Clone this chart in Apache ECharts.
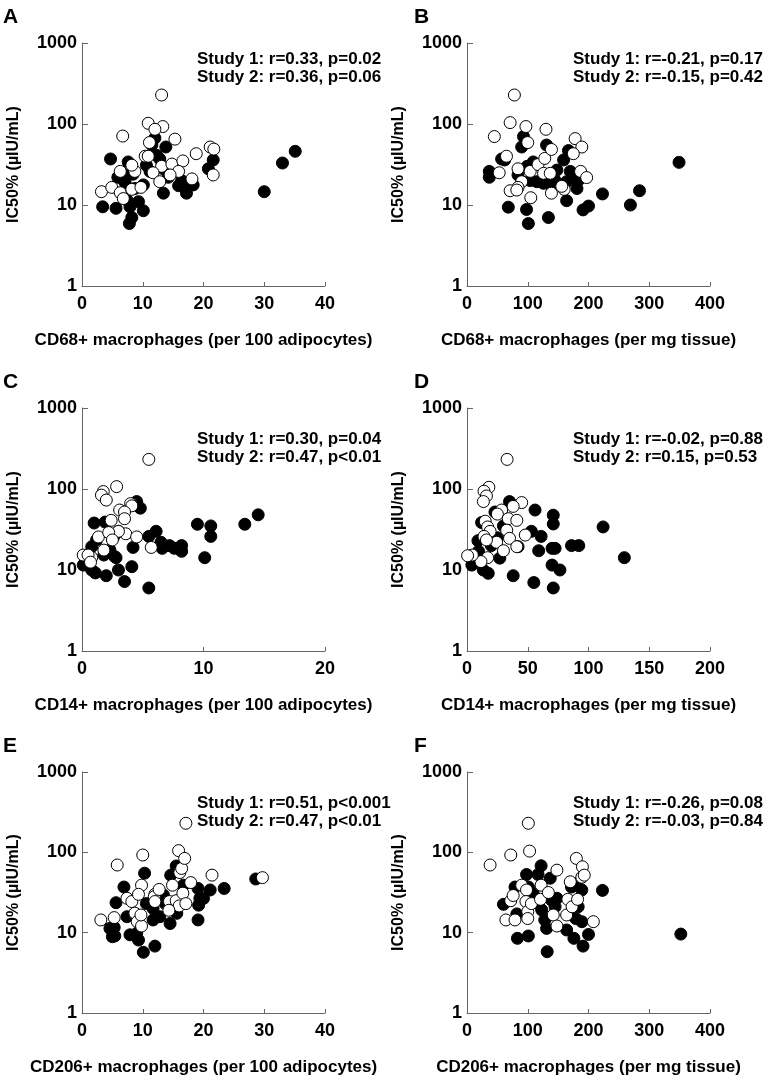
<!DOCTYPE html>
<html>
<head>
<meta charset="utf-8">
<script src="https://cdn.jsdelivr.net/npm/echarts@6/dist/echarts.min.js"></script>
<style>
  html, body { margin: 0; padding: 0; background: #fff; }
  #container { width: 771px; height: 1082px; }
</style>
</head>
<body>
<div id="container"></div>
<script>
// panel A: CD68+ per 100 adipocytes
var cd68AdipS1 = [[3.4,9.5],[4.7,37],[5.6,9.1],[5.9,22],[7.6,34],[7.9,9.5],[8.2,7.0],[7.8,5.9],[9.3,11],[10.1,8.5],[7.1,19],[7.4,23.5],[6.8,12.7],[8.7,16],[10.1,17.7],[10.6,31],[11.5,55],[12.0,67],[13.8,52],[12.3,41],[12.8,37],[13.4,28],[11.2,26],[14.2,22],[13.4,14],[15.9,17.3],[17.2,16.8],[18.3,17.7],[17.2,14],[16.4,20],[20.8,28],[21.6,36],[30.0,14.6],[33.0,33],[35.1,46],[6.9,20],[8.4,24],[7.4,11.5]];
var cd68AdipS2 = [[3.2,14.6],[4.9,16.5],[6.3,14.2],[6.7,71],[6.3,26],[8.2,15.6],[8.7,26],[8.2,31],[9.7,16.5],[6.8,12],[10.9,102],[13.3,93],[12.0,86],[11.1,59],[15.3,65],[10.4,40],[10.9,40],[13.1,30],[14.8,32],[16.6,35],[18.8,43],[11.7,25],[12.8,19.4],[15.9,26],[18.1,21],[21.1,52],[21.7,49],[21.6,23.5],[13.1,228],[14.5,23.5]];
// panel B: CD68+ per mg tissue
var cd68MgS1 = [[36.7,26],[36.7,22],[68,9.4],[98,8.8],[101,5.9],[134,7.0],[57,37],[93,70],[90,52],[131,55],[109,34],[99,30],[115,19.4],[104,20],[126,18.5],[148,27],[159,36],[167,47],[170,26],[164,19.4],[181,16],[183,20],[164,11.3],[191,8.7],[200,9.7],[223,13.7],[269,10],[284,15],[349,33.6],[134,19],[145,20],[140,16.7],[181,22],[84,23.5],[62,36]];
var cd68MgS2 = [[78,228],[45,70],[71,104],[97,93],[130,86],[100,59],[65,40],[53,25],[84,28],[104,26],[117,31.6],[128,37.6],[139,48.5],[178,66],[189,52],[175,43],[126,24.6],[137,24.6],[187,26],[197,21.8],[90,19.4],[84,16.5],[71,15],[82,15.3],[105,12.3],[139,14],[160,15.6],[156,17]];
// panel C: CD14+ per 100 adipocytes
var cd14AdipS1 = [[9.5,36.7],[10.6,35],[10.6,26],[10.1,14.2],[13.4,36.7],[14.5,48],[5.5,6.0],[5.5,26],[6.1,30],[6.5,22],[6.6,18.5],[7.2,20],[7.6,18.5],[8.2,20],[8.2,17],[4.8,58],[4.5,70],[4.2,19],[4.1,11],[3.5,7.2],[3.0,10],[2.0,8.5],[2.8,14.2],[1.0,38],[0.4,12],[0.8,10],[1.1,9.2],[0.1,11.5],[1.2,23.5],[0.8,19.4],[1.9,39],[2.6,25.6],[3.0,30],[2.3,17.6],[1.8,15.3],[2.7,14.6]];
var cd14AdipS2 = [[5.5,232],[1.75,93],[1.6,84],[2.0,73],[2.85,107],[4.0,66],[4.1,62],[3.1,55],[3.5,52],[3.5,43],[2.4,41],[3.6,28],[3.0,30],[1.35,25.6],[2.2,29],[4.5,25.6],[5.7,19],[2.5,23.5],[1.8,17.6],[0.1,15.3],[0.8,14.3],[0.5,15.3],[0.7,12.5]];
// panel D: CD14+ per mg tissue
var cd14MgS1 = [[112,34],[129.5,14.2],[86,20],[92,20],[71,47.5],[71,37],[70,18.5],[72.5,18.5],[70,11.5],[76.5,10],[71,6],[55,7.0],[38,8.5],[56,55],[61,26],[59,17.3],[53,30],[35,70],[23,52],[42,19.4],[27,14],[12,38.5],[9,23],[9.5,17],[13.4,10],[17.5,9.1],[4,11.5],[30,35],[20,20],[25,25]];
var cd14MgS2 = [[33,232],[18,105],[14,94],[16,82],[13.5,70],[45,68],[28.5,55],[25,49],[38,61],[34,43],[41,41],[15,40],[17,34],[19,30],[32.7,31],[48,27],[35,24.6],[24.4,22],[14,26],[16,23.5],[41,19.4],[30,17.3],[17,14.2],[11.5,12.7],[4.4,15.3],[0.5,15]];
// panel E: CD206+ per 100 adipocytes
var cd206AdipS1 = [[4.6,11.3],[5.0,8.9],[5.4,9.1],[5.3,11.6],[5.6,23.6],[6.9,37],[7.4,15.8],[7.9,9.4],[9.0,9.8],[9.3,8.1],[10.1,5.7],[12.0,6.8],[10.3,55],[10.6,23],[11.7,20],[11.7,14.4],[12.8,15.8],[14.5,13],[14.6,52],[15.0,24],[15.5,67.6],[15.6,17.4],[16.7,39],[19.1,35.5],[19.2,22],[19.1,14.4],[19.4,26.7],[20.0,26.7],[21.1,34],[23.4,35.5],[28.6,46.6],[13.4,29.5],[12.3,25.5],[13.7,23]];
var cd206AdipS2 = [[3.1,14.4],[5.3,15.4],[5.8,69.5],[7.4,26.8],[8.2,24.4],[8.7,17.5],[9.1,13.7],[9.8,12.1],[9.7,16.6],[10.0,92.6],[9.8,39],[9.3,30],[12.0,30],[11.9,28],[12.7,34.5],[12.0,24.4],[14.4,24.4],[14.9,39],[15.5,25],[15.9,105],[16.1,56],[16.4,63],[16.9,84],[17.1,230],[16.6,31],[16.0,21.5],[17.1,23],[17.9,42],[14.3,19],[21.4,52],[29.7,48.4]];
// panel F: CD206+ per mg tissue
var cd206MgS1 = [[352,9.6],[223,33.6],[83,8.5],[101,9.1],[132,5.8],[164,10.8],[176,8.5],[191,6.8],[200,9.5],[60,22.5],[82,17.1],[79,37],[98,53],[101,37],[117,53],[122,68],[137,47.6],[123,19.2],[128,14.4],[131,11.3],[139,25.5],[145,21],[148,26.8],[172,37],[189,34],[179,15],[189,13.7],[183,21],[180,41],[109,30.8],[117,23]];
var cd206MgS2 = [[38,69.5],[72,92.6],[101,230],[103,103.6],[64,14.4],[79,14.4],[72,25],[76,29],[90,39],[98,34],[97,24.4],[100,18.3],[100,15],[106,23],[122,39],[121,26],[134,31.6],[142,16.6],[148,12.1],[148,60],[166,26],[164,16.6],[170,43],[173,21],[182,26],[180,84],[190,66],[189,49],[193,52],[208,13.7]];

var letters = ['A','B','C','D','E','F'];
var xNames = ['CD68+ macrophages (per 100 adipocytes)','CD68+ macrophages (per mg tissue)',
              'CD14+ macrophages (per 100 adipocytes)','CD14+ macrophages (per mg tissue)',
              'CD206+ macrophages (per 100 adipocytes)','CD206+ macrophages (per mg tissue)'];
var xMax = [40, 400, 20, 200, 40, 400];
var xStep = [10, 100, 10, 50, 10, 100];
var stats = [
  ['Study 1: r=0.33, p=0.02','Study 2: r=0.36, p=0.06'],
  ['Study 1: r=-0.21, p=0.17','Study 2: r=-0.15, p=0.42'],
  ['Study 1: r=0.30, p=0.04','Study 2: r=0.47, p<0.01'],
  ['Study 1: r=-0.02, p=0.88','Study 2: r=0.15, p=0.53'],
  ['Study 1: r=0.51, p<0.001','Study 2: r=0.47, p<0.01'],
  ['Study 1: r=-0.26, p=0.08','Study 2: r=-0.03, p=0.84']
];
var study1 = [cd68AdipS1, cd68MgS1, cd14AdipS1, cd14MgS1, cd206AdipS1, cd206MgS1];
var study2 = [cd68AdipS2, cd68MgS2, cd14AdipS2, cd14MgS2, cd206AdipS2, cd206MgS2];

var font = '"Liberation Sans", Arial, sans-serif';
var gridLeft = [82, 467];
var gridTop = [43, 408, 772];
var gridH = [243, 243, 241];

var myChart = echarts.init(document.getElementById('container'), null, {renderer: 'canvas'});
var grids = [], xAxes = [], yAxes = [], series = [], graphics = [];

for (var i = 0; i < 6; i++) {
    var col = i % 2, row = Math.floor(i / 2);
    grids.push({left: gridLeft[col], top: gridTop[row], width: 243, height: gridH[row]});
    xAxes.push({
        gridIndex: i, type: 'value', min: 0, max: xMax[i], interval: xStep[i],
        name: xNames[i], nameLocation: 'middle', nameGap: 46,
        nameTextStyle: {fontFamily: font, fontWeight: 'bold', fontSize: 17, color: '#000'},
        axisLine: {onZero: false, lineStyle: {color: '#666', width: 1}},
        axisTick: {inside: true, length: 4, lineStyle: {color: '#666'}},
        axisLabel: {fontFamily: font, fontWeight: 'bold', fontSize: 18, color: '#000', margin: 9},
        splitLine: {show: false}
    });
    yAxes.push({
        gridIndex: i, type: 'log', logBase: 10, min: 1, max: 1000,
        name: 'IC50% (\u00b5IU/mL)', nameLocation: 'middle', nameGap: 60,
        nameTextStyle: {fontFamily: font, fontWeight: 'bold', fontSize: 16, color: '#000'},
        axisLine: {show: true, onZero: false, lineStyle: {color: '#666', width: 1}},
        axisTick: {show: true, inside: true, length: 6, lineStyle: {color: '#666'}},
        axisLabel: {fontFamily: font, fontWeight: 'bold', fontSize: 18, color: '#000', margin: 5,
                    formatter: function (v) { return String(Math.round(v)); }},
        minorTick: {show: false},
        splitLine: {show: false}
    });
    series.push({
        type: 'scatter', xAxisIndex: i, yAxisIndex: i, symbol: 'circle', symbolSize: 12,
        itemStyle: {color: '#000', borderColor: '#000', borderWidth: 1, opacity: 1},
        data: study1[i]
    });
    series.push({
        type: 'scatter', xAxisIndex: i, yAxisIndex: i, symbol: 'circle', symbolSize: 12,
        itemStyle: {color: '#fff', borderColor: '#000', borderWidth: 1, opacity: 1},
        data: study2[i]
    });
    graphics.push({
        type: 'text', left: col ? 414 : 3, top: gridTop[row] - 36,
        style: {text: letters[i], font: 'bold 21px ' + font, fill: '#000'}
    });
    graphics.push({
        type: 'text', left: col ? 573 : 197, top: gridTop[row] + (row ? 22 : 7),
        style: {text: stats[i][0] + '\n' + stats[i][1], font: 'bold 17px ' + font, fill: '#000', lineHeight: 18}
    });
}

var option = {
    animation: false,
    backgroundColor: '#fff',
    grid: grids,
    xAxis: xAxes,
    yAxis: yAxes,
    series: series,
    graphic: graphics
};
myChart.setOption(option);
</script>
</body>
</html>
